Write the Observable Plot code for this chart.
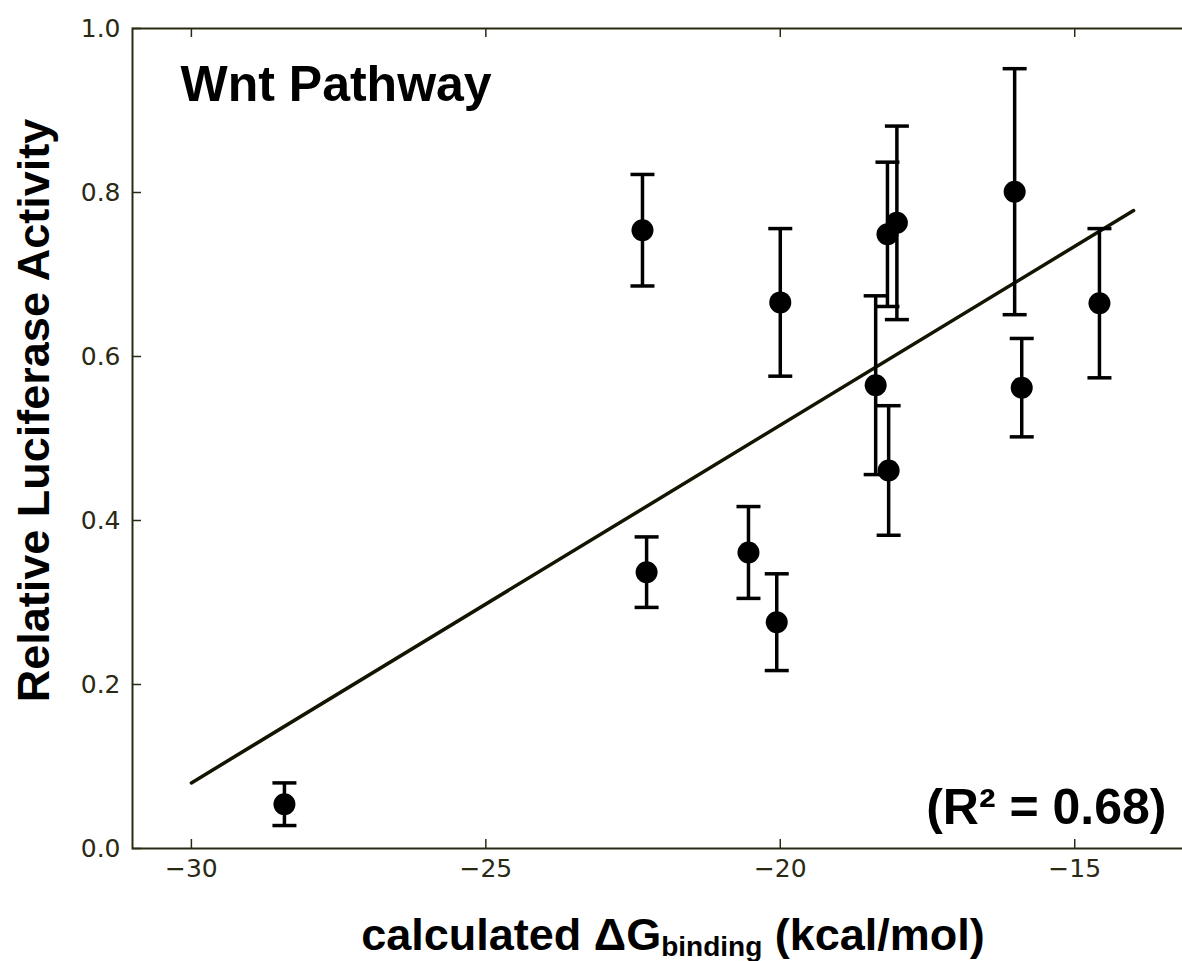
<!DOCTYPE html>
<html>
<head>
<meta charset="utf-8">
<script src="https://cdn.jsdelivr.net/npm/d3@7"></script>
<script src="https://cdn.jsdelivr.net/npm/@observablehq/plot@0.6"></script>
<style>
  html, body { margin: 0; padding: 0; background: #fff; overflow: hidden; }
  #wrap { width: 1182px; height: 961px; overflow: hidden; position: relative; }
  #wrap svg { max-width: none !important; display: block; }
</style>
</head>
<body>
<div id="wrap"></div>
<script>
// ---- data ----
const dG = [-28.42, -22.34, -22.27, -20.54, -20.06, -20.0, -18.38, -18.16, -18.18, -18.02, -16.02, -15.9, -14.58];
const activity = [0.054, 0.754, 0.337, 0.361, 0.276, 0.666, 0.565, 0.461, 0.749, 0.763, 0.801, 0.562, 0.665];
const errors = [0.026, 0.068, 0.043, 0.056, 0.059, 0.090, 0.109, 0.079, 0.088, 0.118, 0.150, 0.060, 0.091];
const fitX = [-30, -14];
const fitY = [0.080, 0.778];
const xTicks = [-30, -25, -20, -15];
const yTicks = [0.0, 0.2, 0.4, 0.6, 0.8, 1.0];
const titleText = "Wnt Pathway";
const r2Text = "(R\u00B2 = 0.68)";
const yLabel = "Relative Luciferase Activity";

const points = dG.map((x, i) => ({x, y: activity[i], e: errors[i]}));
const fit = fitX.map((x, i) => ({x, y: fitY[i]}));

const axisColor = "#2a2a14";
const W = 1194, H = 961;
const mL = 132, mR = 2, mT = 28, mB = 113;
const plotW = W - mL - mR, plotH = H - mT - mB;
const tickLen = 9;

const capSymbol = {
  draw(context) { context.moveTo(-12, 0); context.lineTo(12, 0); }
};

const chart = Plot.plot({
  width: W,
  height: H,
  marginLeft: mL,
  marginRight: mR,
  marginTop: mT,
  marginBottom: mB,
  style: {background: "#fff", fontFamily: "DejaVu Sans", maxWidth: "none"},
  x: {domain: [-31, -13]},
  y: {domain: [0, 1]},
  marks: [
    Plot.frame({stroke: axisColor, strokeWidth: 2}),
    Plot.tickX(xTicks, {x: d => d, insetTop: plotH - tickLen, stroke: axisColor, strokeWidth: 1.5}),
    Plot.tickX(xTicks, {x: d => d, insetBottom: plotH - tickLen, stroke: axisColor, strokeWidth: 1.5}),
    Plot.tickY(yTicks, {y: d => d, insetRight: plotW - tickLen, stroke: axisColor, strokeWidth: 1.5}),
    Plot.tickY(yTicks, {y: d => d, insetLeft: plotW - tickLen, stroke: axisColor, strokeWidth: 1.5}),
    Plot.axisX({ticks: xTicks, tickSize: 0, tickPadding: 11, label: null,
      tickFormat: d => (d < 0 ? "\u2212" : "") + Math.abs(d),
      fontSize: 25, fontFamily: "DejaVu Sans", color: axisColor}),
    Plot.axisY({ticks: yTicks, tickSize: 0, tickPadding: 12, label: null,
      tickFormat: d => d.toFixed(1),
      fontSize: 25, fontFamily: "DejaVu Sans", color: axisColor}),
    Plot.line(fit, {x: "x", y: "y", stroke: "#141400", strokeWidth: 3.5}),
    Plot.ruleX(points, {x: "x", y1: d => d.y - d.e, y2: d => d.y + d.e, stroke: "#000", strokeWidth: 3.5}),
    Plot.dot(points, {x: "x", y: d => d.y + d.e, symbol: capSymbol, stroke: "#000", fill: "none", strokeWidth: 3.5}),
    Plot.dot(points, {x: "x", y: d => d.y - d.e, symbol: capSymbol, stroke: "#000", fill: "none", strokeWidth: 3.5}),
    Plot.dot(points, {x: "x", y: "y", r: 11, fill: "#000", stroke: "none"}),
    Plot.text([titleText], {frameAnchor: "top-left", dx: 48, dy: 37, lineAnchor: "top", textAnchor: "start",
      fontSize: 50, fontWeight: "bold", fontFamily: "Liberation Sans, Arial, sans-serif", fill: "#000"}),
    Plot.text([r2Text], {frameAnchor: "bottom-right", dx: -26, dy: -41, lineAnchor: "middle", textAnchor: "end",
      fontSize: 50, fontWeight: "bold", fontFamily: "Liberation Sans, Arial, sans-serif", fill: "#000"}),
    Plot.text([yLabel], {frameAnchor: "left", rotate: -90, dx: -98, dy: -28, lineAnchor: "middle", textAnchor: "middle",
      fontSize: 45, fontWeight: "bold", fontFamily: "Liberation Sans, Arial, sans-serif", fill: "#000"})
  ]
});

document.getElementById("wrap").appendChild(chart);

const svg = d3.select(chart);
const lab = svg.append("text")
  .attr("x", 673).attr("y", 950)
  .attr("text-anchor", "middle")
  .attr("font-family", "Liberation Sans, Arial, sans-serif")
  .attr("font-weight", "bold")
  .attr("font-size", 45)
  .attr("fill", "#000");
lab.append("tspan").text("calculated \u0394G");
lab.append("tspan").attr("font-size", 28).attr("dy", 6).text("binding");
lab.append("tspan").attr("dy", -6).text(" (kcal/mol)");
</script>
</body>
</html>
